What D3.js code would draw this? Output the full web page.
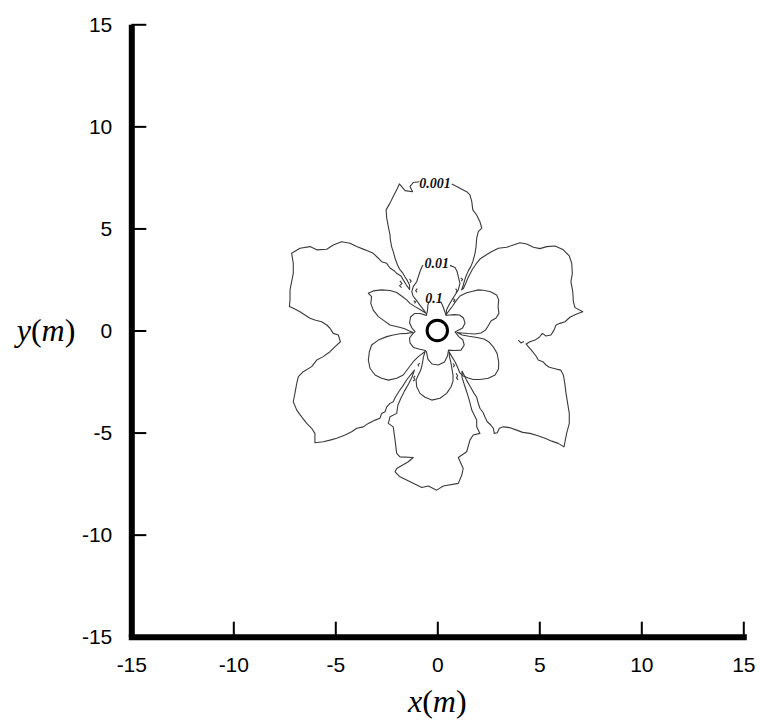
<!DOCTYPE html>
<html>
<head>
<meta charset="utf-8">
<script src="https://cdn.jsdelivr.net/npm/d3@7"></script>
<style>
  html, body { margin: 0; padding: 0; background: #ffffff; }
  svg { display: block; }
</style>
</head>
<body>
<svg id="chart" width="760" height="724"></svg>
<script>
// Axis ticks (metres)
const xTicks = [-15, -10, -5, 0, 5, 10, 15];
const yTicks = [-15, -10, -5, 0, 5, 10, 15];

// Radius of the source ring at the origin (m)
const wellRadius = 0.5;

// Iso-line 0.001, traced clockwise from the right end of its label
const level0001 = [
  [0.71,7.18],[0.95,7.05],[1.20,6.92],[1.44,6.80],[1.60,6.64],[1.69,6.31],[1.74,5.91],[1.93,5.66],
  [2.09,5.33],[2.18,5.01],[2.01,4.84],[1.93,4.52],[1.90,4.11],[1.85,3.78],[1.74,3.37],[1.64,3.13],
  [1.52,2.92],[1.41,2.67],[1.33,2.43],[1.26,2.18],[1.19,1.99],
  [1.28,2.06],[1.38,2.28],[1.48,2.52],[1.60,2.77],[1.73,3.01],[1.90,3.26],[2.09,3.50],[2.39,3.70],
  [2.63,3.85],[2.99,4.03],[3.40,4.08],[3.73,4.19],[4.05,4.30],[4.38,4.24],[4.71,4.08],[5.03,4.01],
  [5.36,4.11],[5.77,4.14],[6.18,3.95],[6.47,3.65],[6.59,3.29],[6.62,2.80],[6.55,2.39],[6.64,1.90],
  [6.67,1.41],[6.75,1.12],[7.13,0.92],[6.83,0.81],[6.50,0.65],[6.26,0.43],[6.01,0.35],[5.82,0.27],
  [5.72,0.02],[5.57,-0.22],[5.33,-0.27],[5.15,-0.14],[5.00,-0.33],[4.79,-0.47],[4.54,-0.55],[4.35,-0.66],
  [4.46,-0.79],[4.63,-0.99],[4.84,-1.25],[4.95,-1.45],[5.17,-1.53],[5.33,-1.69],[5.49,-1.80],[5.77,-1.87],
  [6.05,-1.94],[6.18,-2.18],[6.25,-2.59],[6.31,-3.08],[6.39,-3.57],[6.47,-4.06],[6.47,-4.55],[6.34,-5.04],
  [6.26,-5.45],[6.21,-5.70],[5.93,-5.53],[5.61,-5.42],[5.28,-5.28],[4.90,-5.14],[4.54,-5.04],[4.19,-4.99],
  [3.89,-4.88],[3.56,-4.76],[3.24,-4.72],[3.04,-4.79],[2.94,-5.01],[2.79,-5.04],[2.75,-4.79],[2.62,-4.63],
  [2.45,-4.47],[2.34,-4.25],[2.25,-4.03],[2.09,-3.81],[2.00,-3.54],[1.93,-3.27],[1.80,-3.08],[1.69,-2.88],
  [1.57,-2.67],[1.43,-2.43],[1.31,-2.18],[1.21,-1.99],
  [1.21,-2.28],[1.33,-2.67],[1.46,-3.06],[1.58,-3.46],[1.69,-3.90],[1.93,-4.39],[1.93,-4.72],[2.09,-5.04],
  [1.76,-5.12],[1.60,-5.37],[1.44,-5.94],[1.03,-6.22],[1.27,-6.76],[1.20,-7.08],[1.03,-7.49],[0.29,-7.62],
  [-0.03,-7.82],[-0.44,-7.62],[-0.76,-7.69],[-1.58,-7.29],[-1.83,-7.17],[-2.07,-6.92],[-1.99,-6.76],
  [-1.42,-6.43],[-1.18,-6.22],[-1.83,-6.19],[-1.99,-6.02],[-2.07,-5.37],[-2.16,-4.72],[-2.40,-4.55],
  [-2.32,-4.23],[-1.99,-4.06],[-1.93,-3.65],[-1.78,-3.31],[-1.61,-2.97],[-1.41,-2.62],[-1.24,-2.28],[-1.12,-1.94],
  [-1.26,-2.11],[-1.49,-2.40],[-1.68,-2.70],[-1.88,-2.99],[-2.05,-3.26],[-2.16,-3.49],[-2.32,-3.57],
  [-2.48,-3.74],[-2.56,-3.98],[-2.73,-4.06],[-2.81,-4.30],[-3.05,-4.39],[-3.38,-4.55],[-3.63,-4.72],
  [-3.95,-4.79],[-4.20,-4.96],[-4.52,-5.12],[-4.93,-5.28],[-5.26,-5.37],[-5.59,-5.45],[-6.00,-5.50],
  [-6.00,-5.04],[-6.16,-4.79],[-6.40,-4.55],[-6.65,-4.23],[-6.89,-3.90],[-7.06,-3.49],[-6.98,-3.08],
  [-6.89,-2.59],[-6.81,-2.26],[-6.57,-2.02],[-6.16,-1.77],[-5.91,-1.45],[-5.59,-1.28],[-5.26,-1.04],
  [-5.01,-0.79],[-4.75,-0.55],
  [-4.85,-0.22],[-5.10,-0.14],[-5.26,0.11],[-5.42,0.27],[-5.67,0.43],[-6.00,0.51],[-6.24,0.60],
  [-6.49,0.76],[-6.73,0.92],[-7.06,1.09],[-7.25,1.17],[-7.22,1.50],[-7.22,1.99],[-7.14,2.39],[-7.06,2.80],
  [-7.06,3.29],[-7.14,3.78],[-6.73,4.03],[-6.24,4.11],[-5.91,3.95],[-5.42,3.98],[-5.10,4.19],[-4.69,4.35],
  [-4.28,4.27],[-3.95,4.11],[-3.54,3.95],[-3.14,3.78],[-2.89,3.54],[-2.73,3.37],[-2.48,3.29],[-2.32,3.06],
  [-2.12,2.93],[-1.98,2.79],[-1.78,2.67],[-1.67,2.48],[-1.53,2.25],[-1.36,2.01],
  [-1.36,2.23],[-1.46,2.43],[-1.58,2.62],[-1.71,2.84],[-1.85,3.01],[-1.95,3.21],[-2.07,3.54],[-2.16,3.86],
  [-2.24,4.11],[-2.30,4.44],[-2.32,4.68],[-2.40,5.09],[-2.48,5.50],[-2.51,5.91],[-2.32,6.24],[-2.16,6.56],
  [-1.99,6.89],[-1.86,7.18],[-1.58,6.85],[-1.21,6.80],[-1.34,7.05],[-1.18,7.25],[-0.88,7.29]
];

// Small detached pieces of the 0.001 iso-line inside the narrow gaps between petals
const fragments0001 = [
  [[-1.83,2.43],[-1.73,2.30],[-1.85,2.20],[-1.75,2.10]],
  [[-1.36,2.52],[-1.28,2.42],[-1.34,2.34]],
  [[-1.16,1.46],[-1.06,1.40],[-1.12,1.33]],
  [[1.15,2.58],[1.24,2.50],[1.18,2.42]],
  [[0.78,1.56],[0.86,1.50],[0.80,1.43],[0.86,1.38]],
  [[0.78,-1.62],[0.84,-1.72],[0.78,-1.80]],
  [[-0.86,-1.60],[-0.95,-1.68],[-0.90,-1.76]],
  [[3.97,-0.47],[4.10,-0.61],[4.25,-0.54]],
  [[-1.08,-2.22],[-1.16,-2.30],[-1.10,-2.40],[-1.18,-2.48]],
  [[0.92,-2.10],[1.00,-2.22],[0.94,-2.32],[1.02,-2.42]],
  [[-0.98,2.05],[-1.06,1.95],[-0.99,1.86]],
  [[0.90,2.05],[0.97,1.95],[0.91,1.86]]
];

// Iso-line 0.01
const level001 = [
  [0.62,3.19],[0.87,3.09],[0.97,2.89],[1.03,2.64],[1.11,2.31],[1.03,1.99],[0.87,1.74],[0.72,1.50],
  [0.57,1.25],[0.45,1.00],[0.43,0.78],
  [0.57,0.96],[0.75,1.20],[0.92,1.45],[1.11,1.69],[1.44,1.85],[1.69,1.91],[2.01,1.99],[2.25,1.97],
  [2.58,1.91],[2.91,1.74],[3.01,1.50],[2.98,1.17],[3.02,0.84],[2.88,0.61],[2.63,0.47],[2.49,0.22],
  [2.36,0.02],[2.14,-0.12],[1.85,-0.17],[1.50,-0.15],[1.21,-0.12],[0.97,-0.10],
  [1.21,-0.22],[1.55,-0.28],[1.95,-0.34],[2.29,-0.42],[2.53,-0.56],[2.75,-0.81],[2.93,-1.12],[3.01,-1.53],
  [3.00,-1.89],[2.83,-2.18],[2.50,-2.34],[2.09,-2.40],[1.76,-2.40],[1.52,-2.33],[1.27,-2.23],[1.11,-2.08],
  [1.01,-1.84],[0.87,-1.53],[0.71,-1.28],[0.57,-1.03],
  [0.60,-1.30],[0.67,-1.59],[0.72,-1.89],[0.77,-2.18],[0.77,-2.48],[0.67,-2.77],[0.46,-3.08],[0.13,-3.32],
  [-0.27,-3.41],[-0.60,-3.27],[-0.85,-3.08],[-1.01,-2.75],[-1.04,-2.43],[-0.93,-2.18],[-0.81,-1.94],
  [-0.73,-1.61],[-0.68,-1.30],[-0.60,-1.03],
  [-0.80,-1.18],[-0.93,-1.28],[-1.18,-1.53],[-1.42,-1.85],[-1.67,-2.18],[-1.99,-2.34],[-2.40,-2.43],
  [-2.73,-2.34],[-3.05,-2.18],[-3.30,-1.85],[-3.38,-1.45],[-3.33,-1.04],[-3.22,-0.71],[-2.89,-0.47],
  [-2.48,-0.30],[-2.16,-0.22],[-1.83,-0.16],[-1.50,-0.14],[-1.19,-0.10],
  [-1.44,0.01],[-1.63,0.10],[-1.91,0.17],[-2.32,0.27],[-2.65,0.51],[-2.89,0.68],[-3.14,1.00],[-3.26,1.33],
  [-3.22,1.66],[-3.38,1.82],[-3.14,1.94],[-2.73,1.99],[-2.32,1.96],[-1.99,1.86],[-1.75,1.69],[-1.50,1.50],
  [-1.34,1.33],[-1.09,1.17],[-0.85,1.03],[-0.55,0.84],
  [-0.70,1.05],[-0.87,1.27],[-1.04,1.50],[-1.19,1.69],[-1.25,1.90],[-1.18,2.15],[-1.01,2.39],[-0.93,2.64],
  [-0.85,2.88],[-0.76,3.11],[-0.69,3.21]
];

// Iso-line 0.1
const level01 = [
  [0.16,1.42],[0.25,1.25],[0.33,1.03],[0.43,0.74],
  [0.60,0.76],[0.82,0.78],[1.09,0.76],[1.28,0.61],[1.36,0.37],[1.24,0.12],[0.87,-0.07],
  [1.05,-0.30],[1.25,-0.45],[1.32,-0.71],[1.16,-0.96],[0.82,-0.98],[0.55,-0.96],
  [0.50,-1.25],[0.35,-1.54],[0.05,-1.69],[-0.26,-1.64],[-0.46,-1.40],[-0.53,-1.05],[-0.58,-0.98],
  [-0.90,-0.91],[-1.17,-0.83],[-1.34,-0.61],[-1.36,-0.37],[-1.24,-0.20],[-1.09,-0.05],
  [-1.24,0.12],[-1.36,0.37],[-1.31,0.66],[-1.12,0.83],[-0.85,0.83],[-0.53,0.74],
  [-0.48,1.00],[-0.46,1.25],[-0.41,1.42]
];

// Level labels placed in the gaps of their iso-lines
const labelText = ["0.001", "0.01", "0.1"];
const labelX = [-0.11, -0.03, -0.16];
const labelY = [7.21, 3.28, 1.59];

const svg = d3.select("#chart");

const x = d3.scaleLinear().domain([-15, 15]).range([131.3, 743.3]);
const y = d3.scaleLinear().domain([-15, 15]).range([636.7, 24.3]);

const line = d3.line().x(d => x(d[0])).y(d => y(d[1]));

// Iso-lines
const iso = svg.append("g")
  .attr("fill", "none")
  .attr("stroke", "#3a3a3a")
  .attr("stroke-width", 1.1)
  .attr("stroke-linejoin", "round");

[level0001, level001, level01].forEach(pts => {
  iso.append("path").attr("d", line(pts));
});
fragments0001.forEach(pts => {
  iso.append("path").attr("d", line(pts));
});

// Source ring
svg.append("circle")
  .attr("cx", x(0))
  .attr("cy", y(0))
  .attr("r", x(wellRadius) - x(0))
  .attr("fill", "none")
  .attr("stroke", "#000")
  .attr("stroke-width", 3);

// Level labels
svg.append("g")
  .selectAll("text")
  .data(labelText)
  .join("text")
  .attr("x", (d, i) => x(labelX[i]))
  .attr("y", (d, i) => y(labelY[i]))
  .attr("dy", "0.35em")
  .attr("text-anchor", "middle")
  .attr("font-family", "'Liberation Serif', 'Times New Roman', serif")
  .attr("font-style", "italic")
  .attr("font-weight", "bold")
  .attr("font-size", 14)
  .attr("fill", "#111")
  .text(d => d);

// Axes with inward ticks
const fmt = d => String(d);

const xAxisG = svg.append("g")
  .attr("transform", `translate(0,${y(-15)})`)
  .call(d3.axisBottom(x).tickValues(xTicks).tickFormat(fmt)
    .tickSizeInner(-15).tickSizeOuter(0).tickPadding(20));

const yAxisG = svg.append("g")
  .attr("transform", `translate(${x(-15)},0)`)
  .call(d3.axisLeft(y).tickValues(yTicks).tickFormat(fmt)
    .tickSizeInner(-15).tickSizeOuter(0).tickPadding(19));

[xAxisG, yAxisG].forEach(g => {
  g.select(".domain").attr("stroke", "#000").attr("stroke-width", 6);
  g.selectAll(".tick line").attr("stroke", "#000").attr("stroke-width", 2);
  g.selectAll(".tick text")
    .attr("fill", "#000")
    .attr("font-family", "'Liberation Sans', Arial, sans-serif")
    .attr("font-size", 21);
});
xAxisG.select(".domain").attr("stroke-linecap", "square");

// Axis titles
const titleFont = "'Liberation Serif', 'Times New Roman', serif";

const xTitle = svg.append("text")
  .attr("x", x(0))
  .attr("y", 712)
  .attr("text-anchor", "middle")
  .attr("font-family", titleFont)
  .attr("font-size", 32)
  .attr("fill", "#000");
xTitle.append("tspan").attr("font-style", "italic").text("x");
xTitle.append("tspan").text("(");
xTitle.append("tspan").attr("font-style", "italic").text("m");
xTitle.append("tspan").text(")");

const yTitle = svg.append("text")
  .attr("x", 46)
  .attr("y", y(0) + 10)
  .attr("text-anchor", "middle")
  .attr("font-family", titleFont)
  .attr("font-size", 32)
  .attr("fill", "#000");
yTitle.append("tspan").attr("font-style", "italic").text("y");
yTitle.append("tspan").text("(");
yTitle.append("tspan").attr("font-style", "italic").text("m");
yTitle.append("tspan").text(")");
</script>
</body>
</html>
